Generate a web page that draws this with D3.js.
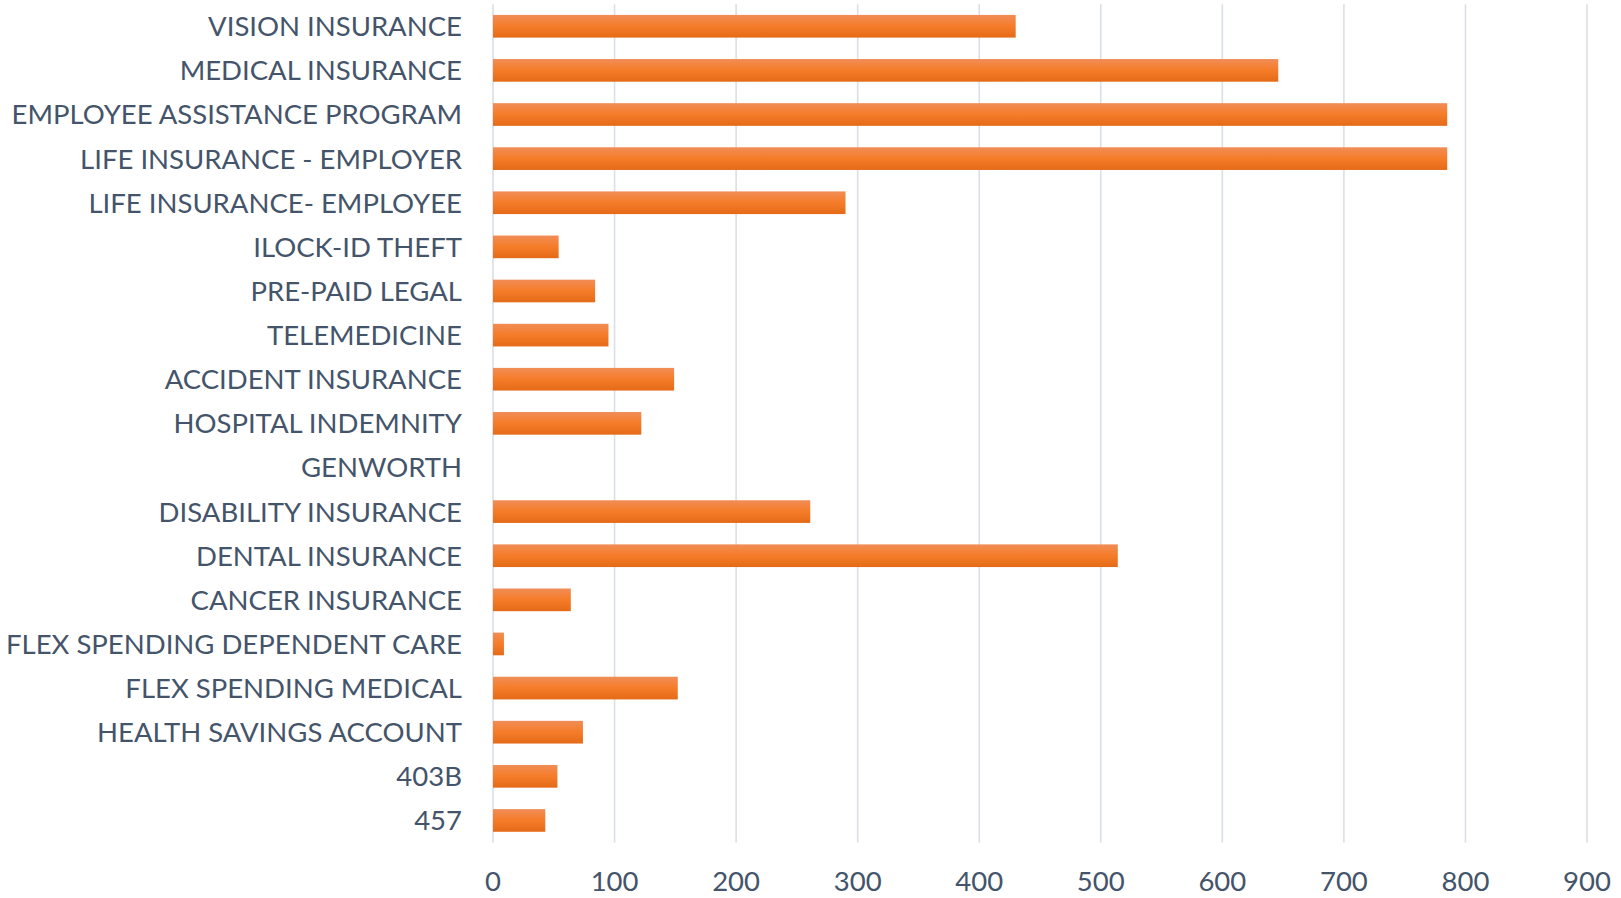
<!DOCTYPE html>
<html>
<head>
<meta charset="utf-8">
<script src="https://cdn.jsdelivr.net/npm/d3@7"></script>
<style>
  html, body { margin: 0; padding: 0; background: #fff; overflow: hidden; }
  svg { display: block; }
  .label { font-family: Lato, "Open Sans", sans-serif; fill: #44546a; font-size: 27.5px; }
</style>
</head>
<body>
<div id="chart"></div>
<script>
"use strict";

const categories = [
    'VISION INSURANCE', 'MEDICAL INSURANCE', 'EMPLOYEE ASSISTANCE PROGRAM',
    'LIFE INSURANCE - EMPLOYER', 'LIFE INSURANCE- EMPLOYEE', 'ILOCK-ID THEFT',
    'PRE-PAID LEGAL', 'TELEMEDICINE', 'ACCIDENT INSURANCE', 'HOSPITAL INDEMNITY',
    'GENWORTH', 'DISABILITY INSURANCE', 'DENTAL INSURANCE', 'CANCER INSURANCE',
    'FLEX SPENDING DEPENDENT CARE', 'FLEX SPENDING MEDICAL', 'HEALTH SAVINGS ACCOUNT',
    '403B', '457'
];
const values = [430, 646, 785, 785, 290, 54, 84, 95, 149, 122, 0, 261, 514, 64, 9, 152, 74, 53, 43];
const xTicks = [0, 100, 200, 300, 400, 500, 600, 700, 800, 900];

const width = 1621, height = 898;
const margin = {top: 4.2, right: 34, bottom: 55.5, left: 493};
const plot_w = width - margin.left - margin.right;
const plot_h = height - margin.top - margin.bottom;

const svg = d3.select('#chart').append('svg')
    .attr('width', width)
    .attr('height', height);

const grad = svg.append('defs').append('linearGradient')
    .attr('id', 'bar-fill')
    .attr('x1', 0).attr('y1', 0).attr('x2', 0).attr('y2', 1);
grad.append('stop').attr('offset', '0%').attr('stop-color', '#f18d57');
grad.append('stop').attr('offset', '50%').attr('stop-color', '#f57c28');
grad.append('stop').attr('offset', '100%').attr('stop-color', '#e46a18');

const x = d3.scaleLinear().domain([0, 900]).range([0, plot_w]);
const y = d3.scaleBand().domain(categories).range([0, plot_h])
    .paddingInner(0.486).paddingOuter(0.243);

const g = svg.append('g')
    .attr('transform', `translate(${margin.left},${margin.top})`);

// vertical grid lines
g.append('g')
    .selectAll('line')
    .data(xTicks)
    .join('line')
    .attr('x1', d => x(d)).attr('x2', d => x(d))
    .attr('y1', 0).attr('y2', plot_h)
    .attr('stroke', '#dadfe7')
    .attr('stroke-width', 1.6);

// bars
g.append('g')
    .selectAll('rect')
    .data(values)
    .join('rect')
    .attr('x', x(0))
    .attr('y', (d, i) => y(categories[i]))
    .attr('width', d => x(d) - x(0))
    .attr('height', y.bandwidth())
    .attr('fill', 'url(#bar-fill)');

// category labels (baseline set so caps sit centred on the bar)
g.append('g')
    .selectAll('text')
    .data(categories)
    .join('text')
    .attr('class', 'label')
    .attr('x', -31)
    .attr('y', d => y(d) + y.bandwidth() / 2 + 10)
    .attr('text-anchor', 'end')
    .text(d => d);

// x tick labels
g.append('g')
    .selectAll('text')
    .data(xTicks)
    .join('text')
    .attr('class', 'label')
    .attr('x', d => x(d))
    .attr('y', height - margin.top - 6.8)
    .attr('text-anchor', 'middle')
    .text(d => d);
</script>
</body>
</html>
